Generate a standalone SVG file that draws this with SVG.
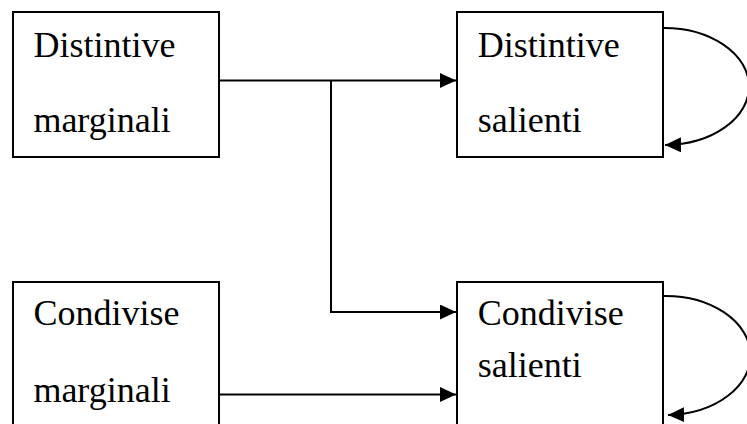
<svg xmlns="http://www.w3.org/2000/svg" width="747" height="424" viewBox="0 0 747 424">
  <style>
    .box { fill: #ffffff; stroke: #000000; stroke-width: 2; }
    .label { font-family: 'Liberation Serif', 'Times New Roman', serif; font-size: 36px; fill: #000000; }
    .wire { fill: none; stroke: #000000; stroke-width: 2; }
  </style>
  <defs>
    <marker id="arrow" markerUnits="userSpaceOnUse" markerWidth="17" markerHeight="16" refX="16" refY="7.5" orient="auto">
      <path d="M0,0 L16,7.5 L0,15 z" fill="#000000"/>
    </marker>
  </defs>
  <rect width="747" height="424" fill="#ffffff"/>

  <g id="distintive-marginali">
    <rect class="box" x="13" y="12" width="206" height="145"/>
    <text class="label" x="33.4" y="56.7">Distintive</text>
    <text class="label" x="33.4" y="132">marginali</text>
  </g>

  <g id="distintive-salienti">
    <rect class="box" x="457" y="12" width="206" height="145"/>
    <text class="label" x="477.7" y="56.7">Distintive</text>
    <text class="label" x="477.7" y="132">salienti</text>
  </g>

  <g id="condivise-marginali">
    <rect class="box" x="13" y="282" width="206" height="160"/>
    <text class="label" x="33.4" y="325">Condivise</text>
    <text class="label" x="33.4" y="401.7">marginali</text>
  </g>

  <g id="condivise-salienti">
    <rect class="box" x="457" y="282" width="206" height="160"/>
    <text class="label" x="477.7" y="325">Condivise</text>
    <text class="label" x="477.7" y="376.7">salienti</text>
  </g>

  <g id="connectors">
    <path class="wire" d="M219 80.5 H456" marker-end="url(#arrow)"/>
    <path class="wire" d="M331 80.5 V312 H456" marker-end="url(#arrow)"/>
    <path class="wire" d="M219 394.5 H456" marker-end="url(#arrow)"/>
    <path class="wire" d="M663 28 A 85 58.5 0 0 1 665 145" marker-end="url(#arrow)"/>
    <path class="wire" d="M663 296 A 85 59.5 0 0 1 668 415" marker-end="url(#arrow)"/>
  </g>
</svg>
